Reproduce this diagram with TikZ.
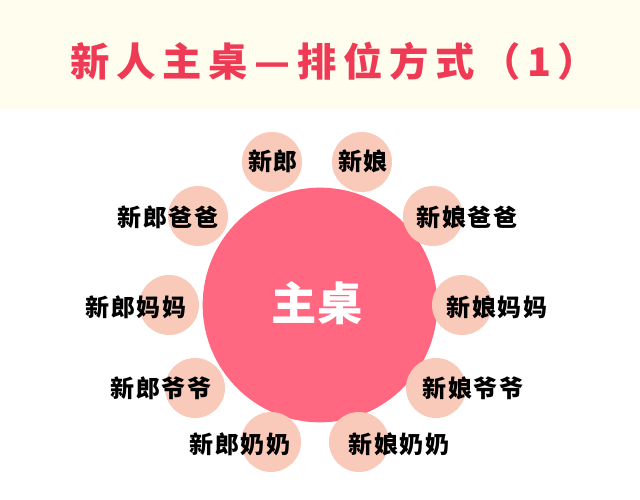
\documentclass[tikz,border=0pt]{standalone}
\usepackage{fontspec}
\newfontfamily\cjk{Noto Sans CJK SC}
\newfontfamily\cjkseat[LetterSpace=6]{Noto Sans CJK SC}
\newfontfamily\cjktitle[LetterSpace=17]{Noto Sans CJK SC}
\definecolor{bandcream}{HTML}{FFFEEE}
\definecolor{titlered}{HTML}{EF3A56}
\definecolor{tablepink}{HTML}{FF6880}
\definecolor{seatpeach}{HTML}{F9CABA}
\tikzset{
  seat/.style={circle,fill=seatpeach,minimum size=45pt,inner sep=0pt},
  seatname/.style={font=\cjkseat\bfseries\fontsize{18}{18}\selectfont,text=black,inner sep=0pt},
}
\begin{document}
\begin{tikzpicture}[x=0.75pt,y=-0.75pt]
\useasboundingbox (0,0) rectangle (640,500);
\fill[white] (0,0) rectangle (640,500);
\fill[bandcream] (0,0) rectangle (640,110);
\node[anchor=west,inner sep=0pt,text=titlered,font=\cjktitle\bfseries\fontsize{29.5}{29.5}\selectfont] (title) at (70,61) {新人主桌—排位方式（1）};
% main table
\node[circle,fill=tablepink,minimum size=176pt,inner sep=0pt] (table) at (320,305) {};
\node[text=white,inner sep=0pt,font=\cjk\bfseries\fontsize{34}{34}\selectfont] (tablename) at (317,303) {主桌};
% seats, groom side left, bride side right
\node[seat] (groom) at (272,162) {};
\node[seatname] (groomname) at (273,161) {新郎};
\node[seat] (bride) at (362,162) {};
\node[seatname] (bridename) at (363,161) {新娘};
\node[seat] (gfather) at (198,216) {};
\node[seatname] (gfathername) at (168,217) {新郎爸爸};
\node[seat] (bfather) at (433,216) {};
\node[seatname] (bfathername) at (467,217) {新娘爸爸};
\node[seat] (gmother) at (169,305) {};
\node[seatname] (gmothername) at (136,307) {新郎妈妈};
\node[seat] (bmother) at (462,305) {};
\node[seatname] (bmothername) at (497,307) {新娘妈妈};
\node[seat] (ggrandpa) at (195,388) {};
\node[seatname] (ggrandpaname) at (161,388) {新郎爷爷};
\node[seat] (bgrandpa) at (436,388) {};
\node[seatname] (bgrandpaname) at (473,388) {新娘爷爷};
\node[seat] (ggrandma) at (271,442) {};
\node[seatname] (ggrandmaname) at (240,444) {新郎奶奶};
\node[seat] (bgrandma) at (359,442) {};
\node[seatname] (bgrandmaname) at (399,444) {新娘奶奶};
\end{tikzpicture}
\end{document}
